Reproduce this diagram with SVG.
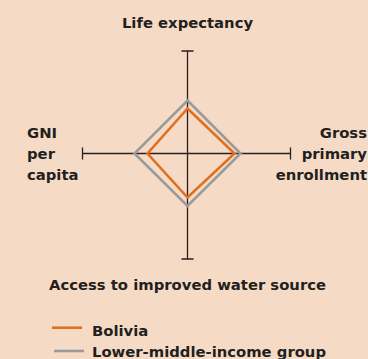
<svg xmlns="http://www.w3.org/2000/svg" width="368" height="359" viewBox="0 0 368 359">
<style>
text{font-family:"DejaVu Sans","Liberation Sans",sans-serif;font-weight:bold;font-size:14.8px;fill:#231f20}
.axis{stroke:#2a1f1f;stroke-width:1.3;fill:none}
.bol{stroke:#e07020;stroke-width:2.6;fill:none}
.grp{stroke:#9a9a9a;stroke-width:2.6;fill:none}
</style>
<rect width="368" height="359" fill="#f5dbc5"/>
<g id="axes">
<path class="axis" d="M187.5 51V259M181.5 51H193.5M181.5 259H193.5M82 153.5H291M82.5 147.5V159.5M290.5 147.5V159.5"/>
</g>
<g id="connectors">
<polygon id="group-shape" class="grp" points="187.5,100.5 240.5,153.5 187.5,206 134.5,153.5"/>
<polygon id="bolivia-shape" class="bol" points="187.5,108.5 234.5,153.5 187.5,197.5 147.5,153.5"/>
</g>
<g id="label-life"><text x="187.5" y="28" text-anchor="middle">Life expectancy</text></g>
<g id="label-gni"><text x="27" y="138">GNI</text><text x="27" y="159.3">per</text><text x="27" y="179.5">capita</text></g>
<g id="label-gross" text-anchor="end"><text x="367" y="138">Gross</text><text x="367" y="159.3">primary</text><text x="367" y="179.5">enrollment</text></g>
<g id="label-water"><text x="187.5" y="290" text-anchor="middle">Access to improved water source</text></g>
<g id="legend">
<line class="bol" x1="52" y1="327.7" x2="82" y2="327.7"/>
<text x="92" y="336">Bolivia</text>
<line class="grp" x1="54" y1="351" x2="84" y2="351"/>
<text x="92" y="356.7">Lower-middle-income group</text>
</g>
</svg>
